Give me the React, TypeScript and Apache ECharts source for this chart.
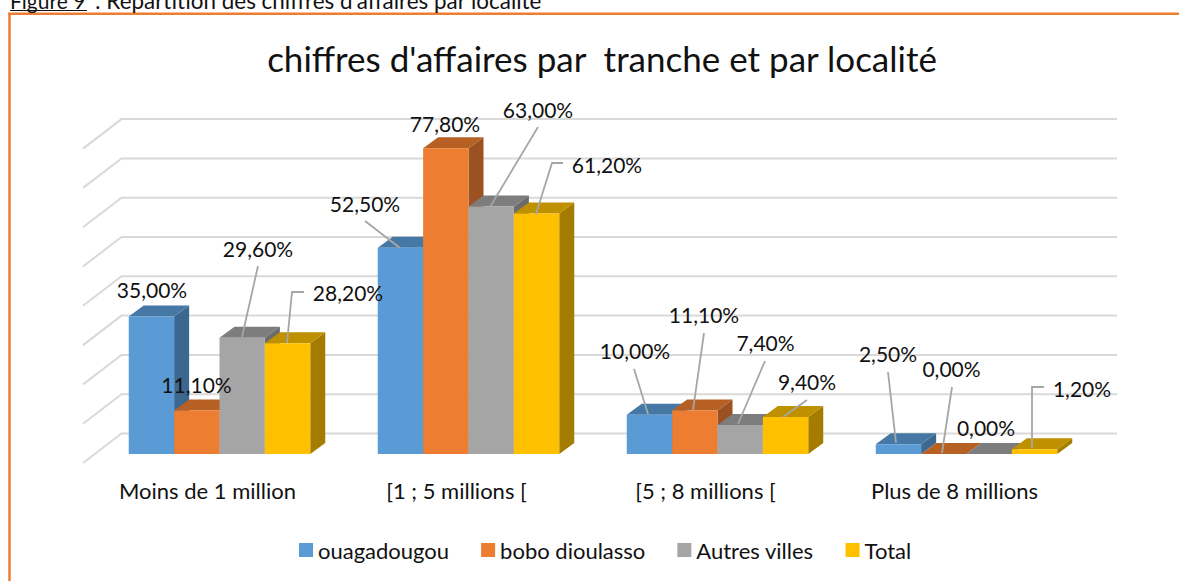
import React, { useEffect, useRef } from "react";
import * as echarts from "echarts";

const categories = ["Moins de 1 million", "[1 ; 5 millions [", "[5 ; 8 millions [", "Plus de 8 millions"];
const seriesNames = ["ouagadougou", "bobo dioulasso", "Autres villes", "Total"];
const ouagadougou = [35.0, 52.5, 10.0, 2.5];
const boboDioulasso = [11.1, 77.8, 11.1, 0.0];
const autresVilles = [29.6, 63.0, 7.4, 0.0];
const total = [28.2, 61.2, 9.4, 1.2];
const allValues = [ouagadougou, boboDioulasso, autresVilles, total];
const gridTicks = [0, 10, 20, 30, 40, 50, 60, 70, 80];

const FONT = "Lato, 'Noto Sans', sans-serif";
const faceColors = ["#5B9BD5", "#ED7D31", "#A5A5A5", "#FFC000"];
const topColors = ["#4678A5", "#B76024", "#7D7D7D", "#BF9000"];
const sideColors = ["#3C678F", "#9C5220", "#6B6B6B", "#A37C00"];

// Bar depth in pixels
const DX = 15;
const DY = 11;
// Wall / floor offsets relative to the bars' front plane
const WALL = { frontX: 83, backX: 121.5, backXEnd: 1117, frontDy: 9, backDy: -20.5 };

// label centre, then the leader's polyline (page pixels), per series then per category
const labelLayout: number[][][][] = [
  [
    [[152, 289]],
    [[365, 203], [365, 221], [400, 248]],
    [[635, 350], [634, 369], [648, 414]],
    [[888, 353], [888, 372], [896, 443]],
  ],
  [
    [[196.5, 384]],
    [[445, 123]],
    [[704, 314], [704, 333], [693, 410]],
    [[951.5, 368], [952, 387], [942, 453]],
  ],
  [
    [[258, 248], [258, 266], [242, 337]],
    [[538, 109], [538, 127], [490, 207]],
    [[765.5, 342], [765, 361], [738, 424]],
    [[986, 427]],
  ],
  [
    [[348, 292], [304, 292], [292, 292], [287, 343]],
    [[607, 164], [563, 163], [552, 163], [536, 214]],
    [[807, 381], [807, 400], [783, 417]],
    [[1082, 388], [1044, 387], [1032, 387], [1032, 448]],
  ],
];

const pct = (v: number) => v.toFixed(2).replace(".", ",") + "%";

function barSeries(name: string, sIdx: number) {
  return {
    name,
    type: "custom",
    coordinateSystem: "cartesian2d",
    data: allValues[sIdx].map((v, i) => [i, v]),
    itemStyle: { color: faceColors[sIdx] },
    z: 3 + sIdx,
    clip: false,
    renderItem: (_p: any, api: any) => {
      const cat = api.value(0);
      const val = api.value(1);
      const [cx, yTop] = api.coord([cat, val]);
      const [, yBase] = api.coord([cat, 0]);
      const bandW = api.size([1, 0])[0];
      const w = (bandW * 0.7289) / 4;
      const x0 = cx - 2 * w + sIdx * w;
      const x1 = x0 + w;
      const children: any[] = [
        {
          type: "polygon",
          shape: { points: [[x1, yBase], [x1 + DX, yBase - DY], [x1 + DX, yTop - DY], [x1, yTop]] },
          style: { fill: sideColors[sIdx] },
        },
        {
          type: "polygon",
          shape: { points: [[x0, yTop], [x0 + DX, yTop - DY], [x1 + DX, yTop - DY], [x1, yTop]] },
          style: { fill: topColors[sIdx] },
        },
        {
          type: "rect",
          shape: { x: x0, y: yTop, width: w, height: yBase - yTop },
          style: { fill: faceColors[sIdx] },
        },
      ];
      return { type: "group", children };
    },
  };
}

function labelSeries() {
  const data: number[][] = [];
  allValues.forEach((vals, s) => vals.forEach((v, c) => data.push([c, v, s])));
  return {
    type: "custom",
    coordinateSystem: "cartesian2d",
    data,
    z: 20,
    clip: false,
    silent: true,
    legendHoverLink: false,
    renderItem: (_p: any, api: any) => {
      const c = api.value(0);
      const v = api.value(1);
      const s = api.value(2);
      const layout = labelLayout[s][c];
      const children: any[] = [];
      if (layout.length > 1) {
        children.push({
          type: "polyline",
          shape: { points: layout.slice(1) },
          style: { stroke: "#A6A6A6", lineWidth: 1.8, fill: "none" },
        });
      }
      children.push({
        type: "text",
        x: layout[0][0],
        y: layout[0][1],
        style: {
          text: pct(v),
          fill: "#111111",
          font: `21px ${FONT}`,
          align: "center",
          verticalAlign: "middle",
        },
      });
      return { type: "group", children };
    },
  };
}

function wallSeries() {
  return {
    type: "custom",
    coordinateSystem: "cartesian2d",
    data: gridTicks.map((t) => [0, t]),
    z: 1,
    clip: false,
    silent: true,
    renderItem: (_p: any, api: any) => {
      const y = api.coord([0, api.value(1)])[1];
      return {
        type: "polyline",
        shape: {
          points: [
            [WALL.frontX, y + WALL.frontDy],
            [WALL.backX, y + WALL.backDy],
            [WALL.backXEnd, y + WALL.backDy],
          ],
        },
        style: { stroke: "#D9D9D9", lineWidth: 2, fill: "none" },
      };
    },
  };
}

export default function App() {
  const ref = useRef<HTMLDivElement>(null);
  useEffect(() => {
    document.body.style.margin = "0";
    const chart = echarts.init(ref.current!, undefined, { renderer: "svg" });
    chart.setOption({
      animation: false,
      backgroundColor: "#ffffff",
      title: {
        text: "chiffres d'affaires par  tranche et par localité",
        left: 597,
        top: 35,
        textAlign: "center",
        textStyle: { fontFamily: FONT, fontSize: 35, fontWeight: "normal", color: "#111111" },
      },
      legend: {
        data: seriesNames.map((n, i) => ({ name: n, itemStyle: { color: faceColors[i] } })),
        top: 539,
        left: 299,
        padding: 0,
        itemWidth: 14,
        itemHeight: 14,
        itemGap: 32,
        icon: "rect",
        textStyle: { fontFamily: FONT, fontSize: 22, color: "#111111" },
      },
      grid: { left: 95, top: 139.6, width: 996, height: 314.4 },
      xAxis: {
        type: "category",
        data: categories,
        axisLine: { show: false },
        axisTick: { show: false },
        axisLabel: { fontFamily: FONT, fontSize: 22, color: "#111111", margin: 25, padding: [0, 24, 0, 0] },
      },
      yAxis: { type: "value", min: 0, max: 80, interval: 10, show: false, splitLine: { show: false } },
      graphic: [
        { type: "line", shape: { x1: 8, y1: 13.7, x2: 1179, y2: 13.7 }, style: { stroke: "#ED7D31", lineWidth: 2.5 }, z: 50 },
        { type: "line", shape: { x1: 9.5, y1: 13, x2: 9.5, y2: 581 }, style: { stroke: "#ED7D31", lineWidth: 2.5 }, z: 50 },
        { type: "text", x: 10, y: 0, style: { text: "Figure 9", font: `21px ${FONT}`, fill: "#111111", verticalAlign: "middle" }, z: 50 },
        { type: "line", shape: { x1: 10, y1: 10.5, x2: 87, y2: 10.5 }, style: { stroke: "#111111", lineWidth: 1 }, z: 50 },
        { type: "text", x: 95, y: 0, style: { text: ": Répartition des chiffres d'affaires par localité", font: `22.4px ${FONT}`, fill: "#111111", verticalAlign: "middle" }, z: 50 },
      ],
      series: [wallSeries(), ...seriesNames.map((n, i) => barSeries(n, i)), labelSeries()],
    });
    return () => chart.dispose();
  }, []);
  return <div ref={ref} style={{ position: "absolute", left: 0, top: 0, width: 1179, height: 581 }} />;
}
